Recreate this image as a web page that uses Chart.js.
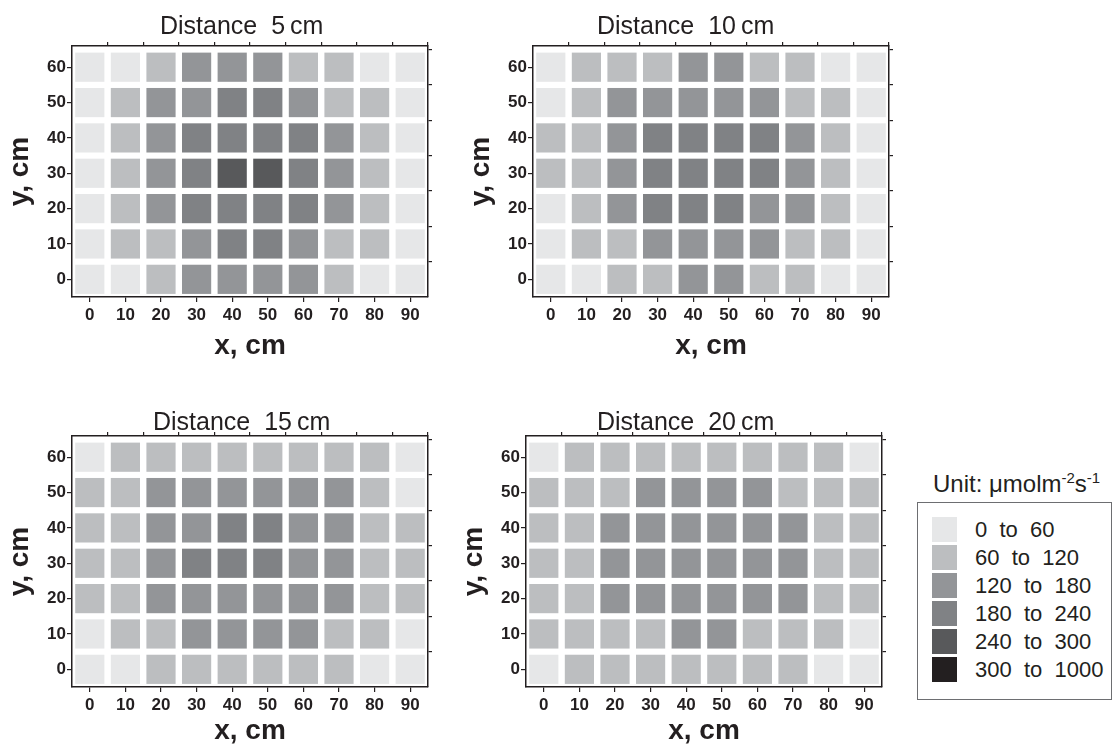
<!DOCTYPE html>
<html>
<head>
<meta charset="utf-8">
<title>PPFD distribution</title>
<script src="https://cdn.jsdelivr.net/npm/chart.js@4/dist/chart.umd.min.js"></script>
<style>
  html, body { margin: 0; padding: 0; background: #fff; width: 1113px; height: 745px; overflow: hidden; }
  canvas { position: absolute; }
  #unit { position: absolute; left: 933px; top: 472px; font: 24px/24px 'Liberation Sans', Arial, sans-serif; color: #231f20; white-space: nowrap; }
  #unit span { font-size: 15px; position: relative; top: -9px; }
  #legend { position: absolute; left: 917px; top: 502px; width: 195px; height: 198px; border: 1px solid #6d6e71; box-sizing: border-box; }
  .row { position: absolute; left: 14px; height: 25px; display: flex; align-items: center; font: 22px 'Liberation Sans', Arial, sans-serif; color: #231f20; white-space: pre; }
  .sw { width: 25px; height: 25px; margin-right: 18px; }
</style>
</head>
<body>
<canvas id="c5" width="436" height="360" style="left:0;top:0"></canvas>
<canvas id="c10" width="436" height="360" style="left:461px;top:0"></canvas>
<canvas id="c15" width="436" height="355" style="left:0;top:390px"></canvas>
<canvas id="c20" width="436" height="355" style="left:454px;top:390px"></canvas>
<div id="unit">Unit: μmolm<span>-2</span>s<span>-1</span></div>
<div id="legend"></div>
<script>
// grid positions (cm)
const xCats = [0, 10, 20, 30, 40, 50, 60, 70, 80, 90];
const yCats = [60, 50, 40, 30, 20, 10, 0];
const xMinor = [5, 15, 25, 35, 45, 55, 65, 75, 85, 95];
const yMinor = [5, 15, 25, 35, 45, 55, 65];

// PPFD classes
const ranges = ['0  to  60', '60  to  120', '120  to  180', '180  to  240', '240  to  300', '300  to  1000'];
const shades = ['#e6e7e8', '#bcbec0', '#939598', '#808285', '#58595b', '#231f20'];

// class index per cell, rows from y = 60 down to y = 0
const dist5 = [
  [0, 0, 1, 2, 2, 2, 1, 1, 0, 0],
  [0, 1, 2, 2, 3, 3, 2, 1, 1, 0],
  [0, 1, 2, 3, 3, 3, 3, 2, 1, 0],
  [0, 1, 2, 3, 4, 4, 3, 2, 1, 0],
  [0, 1, 2, 3, 3, 3, 3, 2, 1, 0],
  [0, 1, 1, 2, 3, 3, 2, 1, 1, 0],
  [0, 0, 1, 2, 2, 2, 2, 1, 0, 0]
];
const dist10 = [
  [0, 1, 1, 1, 2, 2, 1, 1, 0, 0],
  [0, 1, 2, 2, 2, 2, 2, 1, 1, 0],
  [1, 1, 2, 3, 3, 3, 3, 2, 1, 0],
  [1, 1, 2, 3, 3, 3, 3, 2, 1, 0],
  [0, 1, 2, 3, 3, 3, 2, 2, 1, 0],
  [0, 1, 1, 2, 2, 2, 2, 1, 1, 0],
  [0, 0, 1, 1, 2, 2, 1, 1, 0, 0]
];
const dist15 = [
  [0, 1, 1, 1, 1, 1, 1, 1, 1, 0],
  [1, 1, 2, 2, 2, 2, 2, 2, 1, 0],
  [1, 1, 2, 2, 3, 3, 2, 2, 1, 1],
  [1, 1, 2, 3, 3, 3, 2, 2, 1, 1],
  [1, 1, 2, 2, 2, 2, 2, 2, 1, 1],
  [0, 1, 1, 2, 2, 2, 2, 1, 1, 0],
  [0, 0, 1, 1, 1, 1, 1, 1, 0, 0]
];
const dist20 = [
  [0, 1, 1, 1, 1, 1, 1, 1, 1, 0],
  [1, 1, 1, 2, 2, 2, 2, 1, 1, 1],
  [1, 1, 2, 2, 2, 2, 2, 2, 1, 1],
  [1, 1, 2, 2, 2, 2, 2, 2, 1, 1],
  [1, 1, 2, 2, 2, 2, 2, 2, 1, 1],
  [1, 1, 1, 1, 2, 2, 1, 1, 1, 0],
  [0, 1, 1, 1, 1, 1, 1, 1, 0, 0]
];

const FONT = "'Liberation Sans', Arial, Helvetica, sans-serif";
const INK = '#231f20';
const CELL = 8.2; // cell side in x units

Chart.defaults.font.family = FONT;
Chart.defaults.color = INK;

// panel heading, left-aligned from the plot's left edge
const panelTitle = {
  id: 'panelTitle',
  afterDraw(chart, args, opts) {
    const { ctx, chartArea } = chart;
    ctx.save();
    ctx.font = '25px ' + FONT;
    ctx.fillStyle = INK;
    ctx.textAlign = 'left';
    ctx.textBaseline = 'alphabetic';
    ctx.fillText(opts.text, chartArea.left + opts.dx, chartArea.top - opts.rise);
    ctx.restore();
  }
};

function cells(grid) {
  const pts = [];
  grid.forEach((row, r) => row.forEach((k, c) => pts.push({ x: xCats[c], y: yCats[r], k })));
  return pts;
}

const axisLine = { color: INK, width: 1.5 };
const tickGrid = { drawOnChartArea: false, tickLength: 5, color: INK, lineWidth: 1.2 };
const minorGrid = { drawOnChartArea: false, tickLength: 4, color: INK, lineWidth: 1.2 };

function heatmap(id, title, grid, dx, rise, xAxisH) {
  const cellRadius = ctx => {
    const s = ctx.chart.scales.x;
    return Math.abs(s.getPixelForValue(CELL) - s.getPixelForValue(0)) / Math.SQRT2;
  };
  const shade = ctx => shades[ctx.raw ? ctx.raw.k : 0];
  new Chart(document.getElementById(id), {
    type: 'scatter',
    data: {
      datasets: [{
        data: cells(grid),
        pointStyle: 'rect',
        pointRadius: cellRadius,
        pointHoverRadius: cellRadius,
        pointBorderWidth: 0,
        pointHoverBorderWidth: 0,
        pointBackgroundColor: shade,
        pointHoverBackgroundColor: shade
      }]
    },
    plugins: [panelTitle],
    options: {
      responsive: false,
      animation: false,
      events: [],
      layout: { padding: 0 },
      plugins: {
        legend: { display: false },
        tooltip: { enabled: false },
        panelTitle: { text: title, dx, rise }
      },
      scales: {
        x: {
          type: 'linear', position: 'bottom', min: -5, max: 95,
          afterBuildTicks: s => { s.ticks = xCats.map(v => ({ value: v })); },
          afterFit: s => { s.height = xAxisH; },
          ticks: { font: { size: 17, weight: 'bold' }, color: INK, padding: 3, maxRotation: 0 },
          grid: tickGrid,
          border: axisLine,
          title: { display: true, text: 'x, cm', color: INK, font: { size: 28, weight: 'bold', lineHeight: 1 }, padding: { top: 0, bottom: 0 } }
        },
        x2: {
          type: 'linear', position: 'top', min: -5, max: 95,
          afterBuildTicks: s => { s.ticks = xMinor.map(v => ({ value: v })); },
          afterFit: s => { s.height = 46; },
          ticks: { display: false },
          grid: minorGrid,
          border: axisLine
        },
        y: {
          type: 'linear', position: 'left', min: -5, max: 66,
          afterBuildTicks: s => { s.ticks = yCats.map(v => ({ value: v })); },
          afterFit: s => { s.width = 72; },
          ticks: { font: { size: 17, weight: 'bold' }, color: INK, padding: 1 },
          grid: tickGrid,
          border: axisLine,
          title: { display: true, text: 'y, cm', color: INK, font: { size: 28, weight: 'bold', lineHeight: 1 }, padding: { top: 6, bottom: 0 } }
        },
        y2: {
          type: 'linear', position: 'right', min: -5, max: 66,
          afterBuildTicks: s => { s.ticks = yMinor.map(v => ({ value: v })); },
          afterFit: s => { s.width = 8; },
          ticks: { display: false },
          grid: minorGrid,
          border: axisLine
        }
      }
    }
  });
}

heatmap('c5', 'Distance  5\u2009cm', dist5, 88, 12, 63);
heatmap('c10', 'Distance  10\u2009cm', dist10, 64, 12, 63);
heatmap('c15', 'Distance  15\u2009cm', dist15, 81, 6, 58);
heatmap('c20', 'Distance  20\u2009cm', dist20, 71, 6, 58);

// colour key
const legend = document.getElementById('legend');
ranges.forEach((label, i) => {
  const row = document.createElement('div');
  row.className = 'row';
  row.style.top = (14 + i * 28) + 'px';
  row.innerHTML = '<div class="sw" style="background:' + shades[i] + '"></div>' + label;
  legend.appendChild(row);
});
</script>
</body>
</html>
